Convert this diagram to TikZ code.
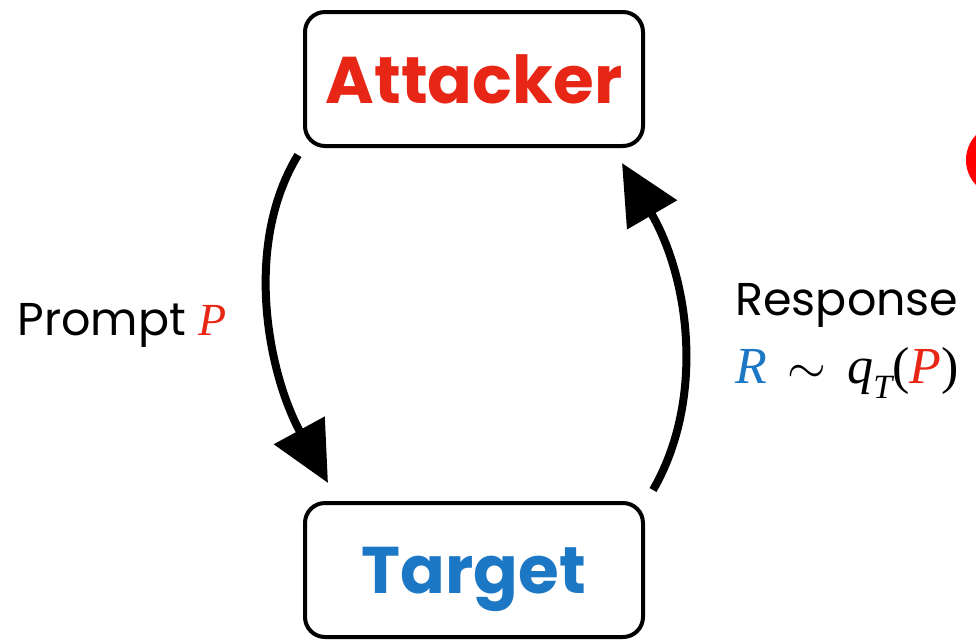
\documentclass[tikz,border=0pt]{standalone}
\usepackage{fontspec}
\setmainfont{Poppins}
\newfontfamily\mathser{Liberation Serif}
\usetikzlibrary{arrows.meta, positioning}
\definecolor{attred}{RGB}{232,38,22}
\definecolor{tgtblue}{RGB}{28,120,196}

\begin{document}
\begin{tikzpicture}[x=0.5pt, y=-0.5pt,
      agent/.style={rectangle, draw, rounded corners=10pt, line width=2pt,
                    minimum width=169pt, minimum height=67pt, text depth=0pt,
                    font=\fontsize{33}{38}\selectfont\bfseries},
      lab/.style={inner sep=0pt, font=\fontsize{23}{26}\selectfont},
      arr/.style={-{Triangle[length=30pt, width=28pt]}, line width=4pt}
    ]
    \useasboundingbox (0,0) rectangle (976,639);
    \clip (0,0) rectangle (976,639);

    \node[agent, text=attred] (att) at (474,79) {Attacker};
    \node[agent, text=tgtblue] (tgt) at (474,570) {Target};

    \node[lab, anchor=base west] (prm) at (17,335)
      {Prompt {\mathser\itshape\color{attred}P}};
    \node[lab, anchor=base west] (rsp) at (735,315) {Response};
    \node[lab, anchor=base west, font=\fontsize{26}{30}\selectfont] (dist) at (735,383)
      {\mathser\itshape\textcolor{tgtblue}{R}\hspace{0.4em}$\sim$\hspace{0.4em}q\raisebox{-0.3em}{\fontsize{17}{17}\selectfont T}{\upshape(}\textcolor{attred}{P}{\upshape)}};

    \draw[arr] ([shift={(-5,7)}]att.south west)
      .. controls +(-55,90) and +(-60,-110) .. ([shift={(25,-18)}]tgt.north west);
    \draw[arr] ([shift={(8,-11)}]tgt.north east)
      .. controls +(52,-90) and +(68,117) .. ([shift={(-23,15)}]att.south east);

    % cut-off mark at the right edge
    \fill[red] (1002,160) circle[radius=36];
  \end{tikzpicture}
\end{document}
